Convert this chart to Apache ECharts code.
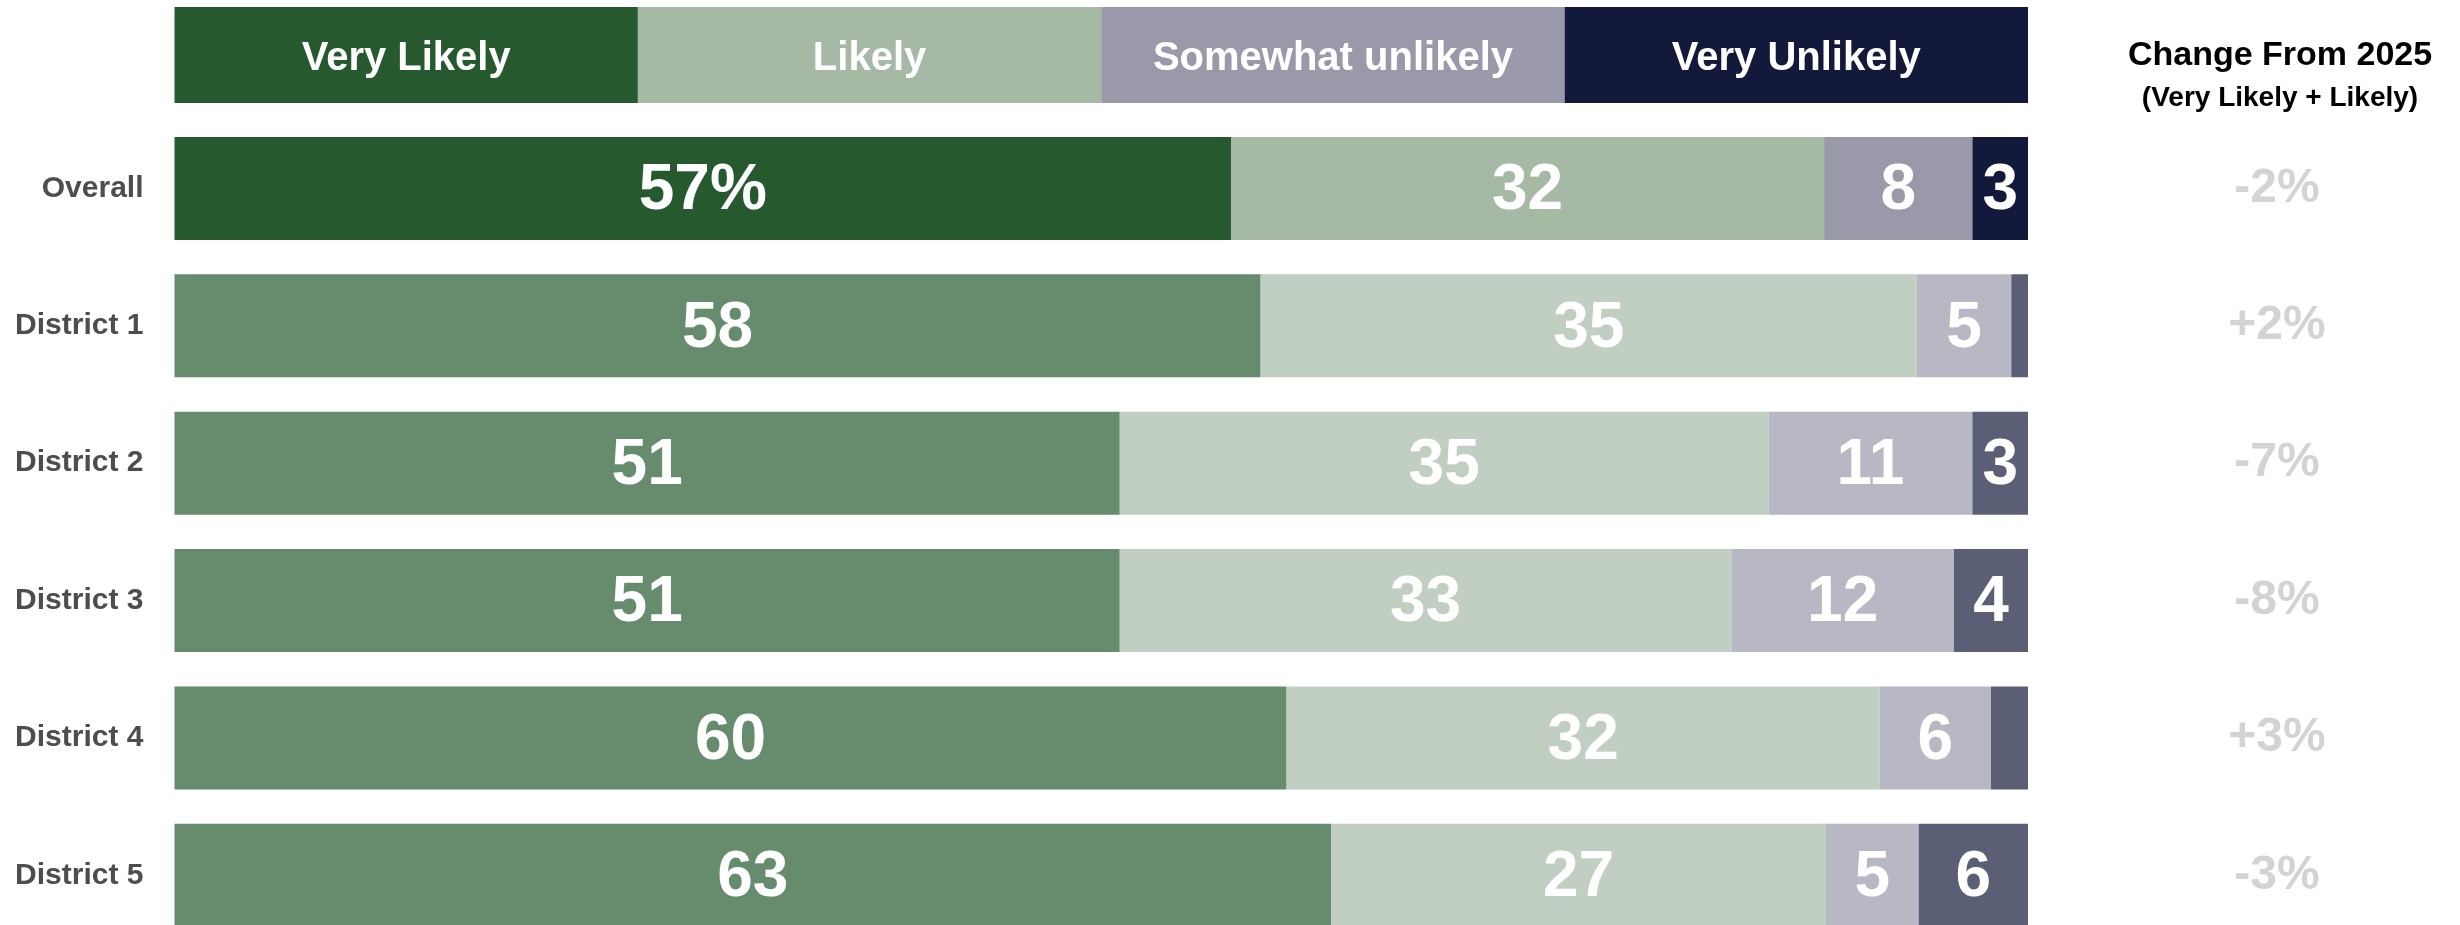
<!DOCTYPE html>
<html>
<head>
<meta charset="utf-8">
<script src="https://cdn.jsdelivr.net/npm/echarts@6/dist/echarts.min.js"></script>
<style>
html,body{margin:0;padding:0;background:#fff;}
#chart{width:2460px;height:925px;}
</style>
</head>
<body>
<div id="chart"></div>
<script>
const categories = ['Overall', 'District 1', 'District 2', 'District 3', 'District 4', 'District 5'];
const veryLikely = [57, 58.6, 51, 51, 60, 62.4];
const likely = [32, 35.4, 35, 33, 32, 26.7];
const somewhatUnlikely = [8, 5.1, 11, 12, 6, 5];
const veryUnlikely = [3, 0.9, 3, 4, 2, 5.9];
const veryLikelyLabels = ['57%', '58', '51', '51', '60', '63'];
const likelyLabels = ['32', '35', '35', '33', '32', '27'];
const somewhatUnlikelyLabels = ['8', '5', '11', '12', '6', '5'];
const veryUnlikelyLabels = ['3', '', '3', '4', '', '6'];
const changeLabels = ['-2%', '+2%', '-7%', '-8%', '+3%', '-3%'];
const headerLabels = ['Very Likely', 'Likely', 'Somewhat unlikely', 'Very Unlikely'];
const headerWidths = [25, 25, 25, 25];

const FONT = "'Liberation Sans', Arial, sans-serif";
const overallColors = ['#265A2E', '#A6B9A5', '#9A99AA', '#13193A'];
const districtColors = ['#678B6D', '#C0CFC1', '#B8B8C5', '#5B5F76'];

const seriesValues = [veryLikely, likely, somewhatUnlikely, veryUnlikely];
const seriesLabels = [veryLikelyLabels, likelyLabels, somewhatUnlikelyLabels, veryUnlikelyLabels];

const dataSeries = seriesValues.map((vals, k) => ({
  name: headerLabels[k],
  type: 'bar',
  stack: 'main',
  xAxisIndex: 0,
  yAxisIndex: 0,
  barWidth: 103,
  clip: false,
  data: vals,
  itemStyle: {
    color: p => (p.dataIndex === 0 ? overallColors[k] : districtColors[k])
  },
  label: {
    show: true,
    position: 'inside',
    offset: [0, 3],
    color: '#fff',
    fontFamily: FONT,
    fontWeight: 'bold',
    fontSize: 64,
    formatter: p => seriesLabels[k][p.dataIndex]
  },
  emphasis: { disabled: true },
  animation: false
}));

const headerSeries = headerWidths.map((w, k) => ({
  type: 'bar',
  stack: 'head',
  xAxisIndex: 1,
  yAxisIndex: 2,
  barWidth: '100%',
  data: [w],
  itemStyle: { color: overallColors[k] },
  label: {
    show: true,
    position: 'inside',
    offset: [0, 4],
    color: '#fff',
    fontFamily: FONT,
    fontWeight: 'bold',
    fontSize: 40,
    formatter: () => headerLabels[k]
  },
  emphasis: { disabled: true },
  animation: false
}));

const chart = echarts.init(document.getElementById('chart'), null, { renderer: 'canvas' });
chart.setOption({
  backgroundColor: '#fff',
  animation: false,
  title: {
    text: 'Change From 2025',
    subtext: '(Very Likely + Likely)',
    left: 2275,
    textAlign: 'center',
    top: 34,
    itemGap: 11,
    textStyle: { fontFamily: FONT, fontWeight: 'bold', fontSize: 34, color: '#000' },
    subtextStyle: { fontFamily: FONT, fontWeight: 'bold', fontSize: 28, color: '#000' }
  },
  grid: [
    { left: 174.5, right: 432, top: 188.5, height: 686.8, containLabel: false },
    { left: 174.5, right: 432, top: 7, height: 96, containLabel: false }
  ],
  xAxis: [
    { gridIndex: 0, type: 'value', min: 0, max: 100, show: false },
    { gridIndex: 1, type: 'value', min: 0, max: 100, show: false }
  ],
  yAxis: [
    {
      gridIndex: 0, type: 'category', data: categories, inverse: true, boundaryGap: false,
      axisLine: { show: false }, axisTick: { show: false }, splitLine: { show: false },
      axisLabel: { margin: 31, fontFamily: FONT, fontWeight: 'bold', fontSize: 30, color: '#4D4D4D', padding: [8, 0, 0, 0] }
    },
    {
      gridIndex: 0, type: 'category', data: categories, inverse: true, boundaryGap: false, position: 'right',
      axisLine: { show: false }, axisTick: { show: false }, splitLine: { show: false },
      axisLabel: {
        margin: 249, align: 'center', fontFamily: FONT, fontWeight: 'bold', fontSize: 48, color: '#D3D3D3',
        padding: [0, 0, 22, 0],
        formatter: (v, i) => changeLabels[i]
      }
    },
    {
      gridIndex: 1, type: 'category', data: ['header'], show: false
    }
  ],
  series: dataSeries.concat(headerSeries)
});
</script>
</body>
</html>
